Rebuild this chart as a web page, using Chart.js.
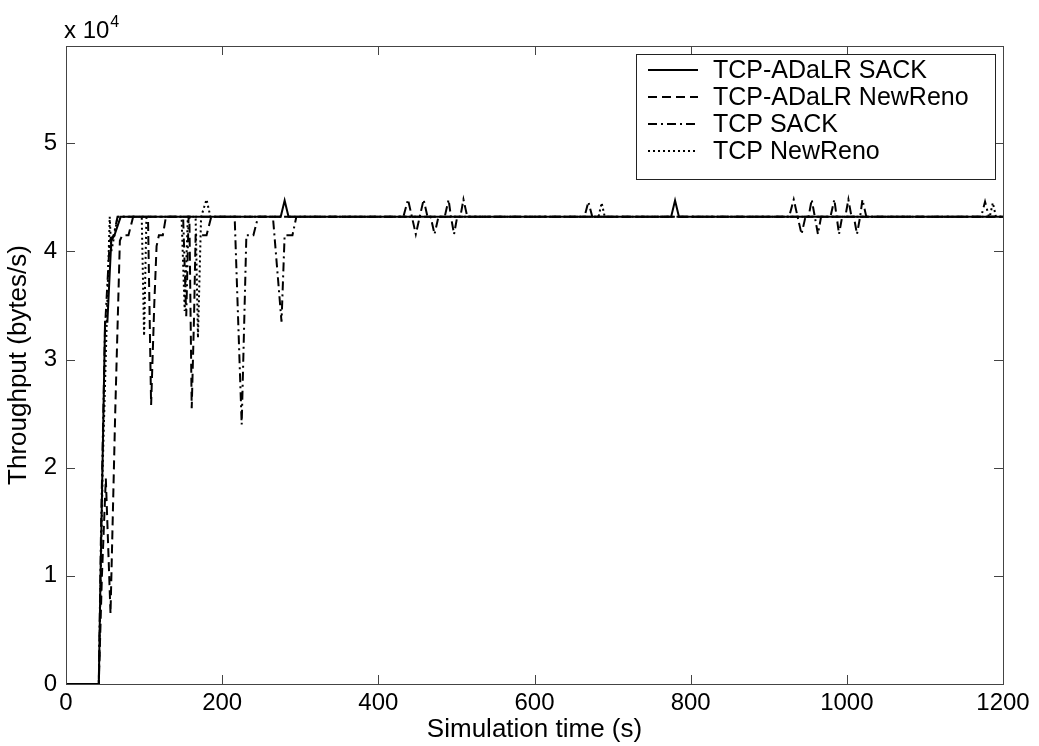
<!DOCTYPE html>
<html>
<head>
<meta charset="utf-8">
<script src="https://cdn.jsdelivr.net/npm/chart.js@4.4.1/dist/chart.umd.min.js"></script>
<style>
  html, body { margin: 0; padding: 0; background: #fff; }
  #wrap { width: 1039px; height: 746px; }
</style>
</head>
<body>
<div id="wrap"><canvas id="tput" width="1039" height="746"></canvas></div>
<script>
// throughput traces (time in s, throughput in bytes/s)
const seriesNames = ['TCP-ADaLR SACK', 'TCP-ADaLR NewReno', 'TCP SACK', 'TCP NewReno'];

const adSackTime = [0, 42, 44, 50, 53, 58, 62, 70, 275, 280, 285, 775, 780, 785, 1200];
const adSackVal  = [0, 0, 9000, 33500, 33500, 41000, 41500, 43200, 43200, 44700, 43200, 43200, 44700, 43200, 43200];

const adRenoTime = [0, 42, 46, 51, 57, 63, 69, 72, 80, 86, 105, 109, 113, 116, 119, 124, 128, 158, 161, 164, 166, 180, 186, 1200];
const adRenoVal  = [0, 0, 10000, 19000, 6500, 25000, 41000, 41500, 41500, 43200, 43200, 25800, 35000, 40500, 41500, 41500, 43200, 43200, 25500, 34000, 41500, 41500, 43200, 43200];

const sackTime = [0, 42, 45, 50, 56, 61, 66, 150, 154, 157, 216, 225, 231, 240, 246, 265, 276, 280, 290, 295,
  432, 438, 443, 448, 453, 458, 463, 467, 472, 477, 485, 490, 493, 497, 501, 505, 509, 514,
  664, 669, 674,
  926, 932, 937, 942, 947, 951, 955, 959, 963, 967, 979, 984, 987, 990, 994, 998, 1002, 1006, 1009, 1013, 1017, 1020, 1025,
  1172, 1177, 1182, 1200];
const sackVal = [0, 0, 15000, 33000, 41000, 41500, 43200, 43200, 34000, 43200, 43200, 24000, 41500, 41500, 43200, 43200, 33500, 41500, 41500, 43200,
  43200, 44800, 43200, 41600, 43200, 44800, 43200, 43200, 41600, 43200, 43200, 44800, 43200, 41600, 43200, 43200, 44800, 43200,
  43200, 44600, 43200,
  43200, 44800, 43200, 41600, 43200, 43200, 44800, 43200, 41600, 43200, 43200, 44800, 43200, 41600, 43200, 43200, 44800, 43200, 43200, 41600, 43200, 44800, 43200,
  43200, 44600, 43200, 43200];

const renoTime = [0, 42, 47, 52, 56, 58, 62, 66, 97, 100, 103, 148, 152, 156, 166, 169, 173, 180, 185, 682, 686, 690, 1183, 1187, 1191, 1200];
const renoVal  = [0, 0, 20000, 33000, 43200, 40000, 41500, 43200, 43200, 32200, 43200, 43200, 34500, 43200, 43200, 32000, 43200, 44800, 43200, 43200, 44500, 43200, 43200, 44500, 43200, 43200];

const xTicks = [0, 200, 400, 600, 800, 1000, 1200];
const yTicks = [0, 10000, 20000, 30000, 40000, 50000];

function pts(ts, vs) {
  return ts.map((t, i) => ({ x: t, y: vs[i] }));
}

const FONT = 'Liberation Sans, Arial, Helvetica, sans-serif';

// matlab style box, inward ticks, legend and the exponent label
const matlabFrame = {
  id: 'matlabFrame',
  afterDatasetsDraw(chart) {
    const ctx = chart.ctx;
    const a = chart.chartArea;
    const xs = chart.scales.x, ys = chart.scales.y;
    ctx.save();
    ctx.strokeStyle = '#444';
    ctx.lineWidth = 1;
    ctx.setLineDash([]);
    ctx.strokeRect(a.left + 0.5, a.top + 0.5, a.right - a.left, a.bottom - a.top);

    ctx.beginPath();
    xTicks.forEach(v => {
      const px = Math.round(xs.getPixelForValue(v)) + 0.5;
      ctx.moveTo(px, a.bottom); ctx.lineTo(px, a.bottom - 9);
      ctx.moveTo(px, a.top); ctx.lineTo(px, a.top + 9);
    });
    yTicks.forEach(v => {
      const py = Math.round(ys.getPixelForValue(v)) + 0.5;
      ctx.moveTo(a.left, py); ctx.lineTo(a.left + 9, py);
      ctx.moveTo(a.right, py); ctx.lineTo(a.right - 9, py);
    });
    ctx.stroke();

    // x 10^4
    ctx.fillStyle = '#000';
    ctx.textBaseline = 'alphabetic';
    ctx.font = '24px ' + FONT;
    ctx.fillText('x 10', a.left - 2, a.top - 8);
    const w = ctx.measureText('x 10').width;
    ctx.font = '16px ' + FONT;
    ctx.fillText('4', a.left - 1 + w, a.top - 19);

    // legend
    const box = { x: 636, y: 54, w: 359, h: 125 };
    ctx.fillStyle = '#fff';
    ctx.fillRect(box.x, box.y, box.w, box.h);
    ctx.strokeStyle = '#222';
    ctx.lineWidth = 1;
    ctx.strokeRect(box.x + 0.5, box.y + 0.5, box.w, box.h);
    ctx.font = '25px ' + FONT;
    ctx.textBaseline = 'middle';
    chart.data.datasets.forEach((ds, i) => {
      const y = box.y + 16 + i * 27;
      ctx.strokeStyle = '#000';
      ctx.lineWidth = 2;
      ctx.setLineDash(ds.borderDash || []);
      ctx.beginPath();
      ctx.moveTo(box.x + 12, y);
      ctx.lineTo(box.x + 62, y);
      ctx.stroke();
      ctx.setLineDash([]);
      ctx.fillStyle = '#000';
      ctx.fillText(ds.label, box.x + 77, y + 1);
    });
    ctx.restore();
  }
};

const lineStyle = {
  borderColor: '#000',
  backgroundColor: '#000',
  borderWidth: 2,
  pointRadius: 0,
  tension: 0,
  fill: false
};

new Chart(document.getElementById('tput'), {
  type: 'line',
  data: {
    datasets: [
      Object.assign({ label: seriesNames[0], data: pts(adSackTime, adSackVal), borderDash: [] }, lineStyle),
      Object.assign({ label: seriesNames[1], data: pts(adRenoTime, adRenoVal), borderDash: [9, 5] }, lineStyle),
      Object.assign({ label: seriesNames[2], data: pts(sackTime, sackVal), borderDash: [9, 4, 2, 4] }, lineStyle),
      Object.assign({ label: seriesNames[3], data: pts(renoTime, renoVal), borderDash: [2, 3] }, lineStyle)
    ]
  },
  options: {
    responsive: false,
    animation: false,
    devicePixelRatio: 1,
    layout: { padding: { left: 0, right: 36, top: 46, bottom: 0 } },
    plugins: {
      legend: { display: false },
      tooltip: { enabled: false }
    },
    scales: {
      x: {
        type: 'linear',
        min: 0,
        max: 1200,
        afterBuildTicks: s => { s.ticks = xTicks.map(v => ({ value: v })); },
        afterFit: s => { s.height = 62; },
        grid: { display: false, drawTicks: false },
        border: { display: false },
        ticks: { color: '#000', font: { family: FONT, size: 24 }, padding: 5, maxRotation: 0, callback: v => String(v) },
        title: { display: true, text: 'Simulation time (s)', color: '#000', font: { family: FONT, size: 26 }, padding: { top: 0, bottom: 1 } }
      },
      y: {
        min: 0,
        max: 59000,
        afterBuildTicks: s => { s.ticks = yTicks.map(v => ({ value: v })); },
        afterFit: s => { s.width = 66; },
        grid: { display: false, drawTicks: false },
        border: { display: false },
        ticks: { color: '#000', font: { family: FONT, size: 24 }, padding: 9, callback: v => String(v / 10000) },
        title: { display: true, text: 'Throughput (bytes/s)', color: '#000', font: { family: FONT, size: 26 }, padding: { top: 3, bottom: 0 } }
      }
    }
  },
  plugins: [matlabFrame]
});
</script>
</body>
</html>
